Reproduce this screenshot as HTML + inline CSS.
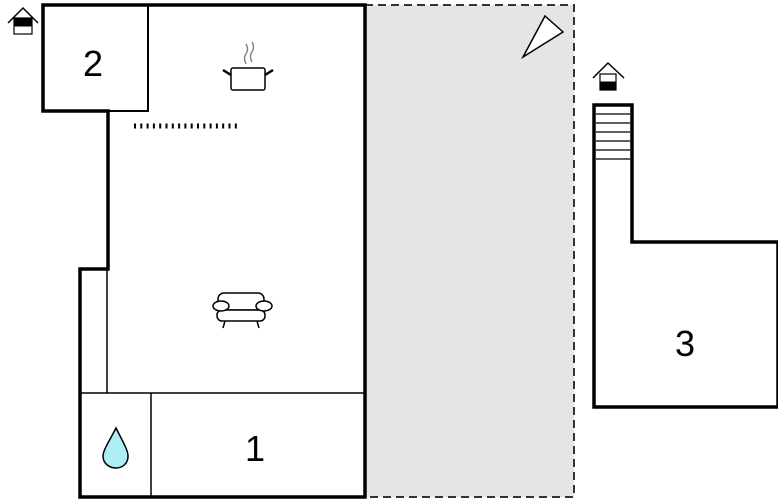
<!DOCTYPE html>
<html><head><style>body{margin:0;background:#fff}svg{display:block}</style></head><body>
<svg width="778" height="500" viewBox="0 0 778 500" xmlns="http://www.w3.org/2000/svg">
<rect x="365" y="5" width="209" height="492" fill="#e5e5e5" stroke="#333" stroke-width="2" stroke-dasharray="8,5"/>
<g fill="none" stroke="#000">
<path d="M43 5 H365 V497 H80 V269 H108 V111 H43 Z" stroke-width="3.5" fill="#fff"/>
<path d="M148 5 V111 H108" stroke-width="2"/>
<path d="M107 269 V393 M80 393 H365 M151 393 V497" stroke-width="1.5"/>
<path d="M594 105 H632 V242 H778 V407 H594 Z" stroke-width="3.5" fill="#fff"/>
<path d="M596 114 H630 M596 123 H630 M596 132 H630 M596 141 H630 M596 150 H630 M596 159 H630" stroke-width="1.2"/>
<path d="M545 16 L563 32 L523 57 Z" stroke-width="1.5" fill="#fff"/>
<path d="M134 126 H240" stroke-width="5" stroke-dasharray="2,4.3"/>
<rect x="231" y="68" width="34" height="22" rx="2" stroke-width="1.5" fill="#fff"/>
<path d="M231 75 L223 70 M265 75 L273 70" stroke-width="2.5"/>
<path d="M246 64 q-3 -6 0 -10 q3 -5 0 -10 M252 62 q-3 -6 0 -10 q3 -5 0 -10" stroke="#888" stroke-width="1.5"/>
<g stroke-width="1.5" fill="#fff">
<rect x="218" y="293" width="46" height="17" rx="6"/>
<rect x="217" y="310" width="48" height="11" rx="5"/>
<ellipse cx="221" cy="306" rx="8" ry="5"/>
<ellipse cx="264" cy="306" rx="8" ry="5"/>
<path d="M225 321 L223 328 M257 321 L259 328"/>
</g>
<path d="M116 428 C110 440 103 450 103 456 C103 464 110 468 116 468 C122 468 128 464 128 456 C128 450 122 440 116 428 Z" fill="#aeeff5" stroke-width="1.5"/>
<path d="M8 23 L23 8 L38 23" stroke-width="1.5"/>
<rect x="14" y="18" width="18" height="16" stroke-width="1.2" fill="#fff"/>
<rect x="14" y="18" width="18" height="8" fill="#000"/>
<path d="M593 78 L608 63 L624 78" stroke-width="1.5"/>
<rect x="600" y="74" width="16" height="16" stroke-width="1.2" fill="#fff"/>
<rect x="600" y="82" width="16" height="8" fill="#000"/>
</g>
<g font-family="Liberation Sans, sans-serif" font-size="36" text-anchor="middle" fill="#000">
<text x="93" y="76">2</text>
<text x="255" y="461">1</text>
<text x="685" y="356">3</text>
</g>
</svg>
</body></html>
